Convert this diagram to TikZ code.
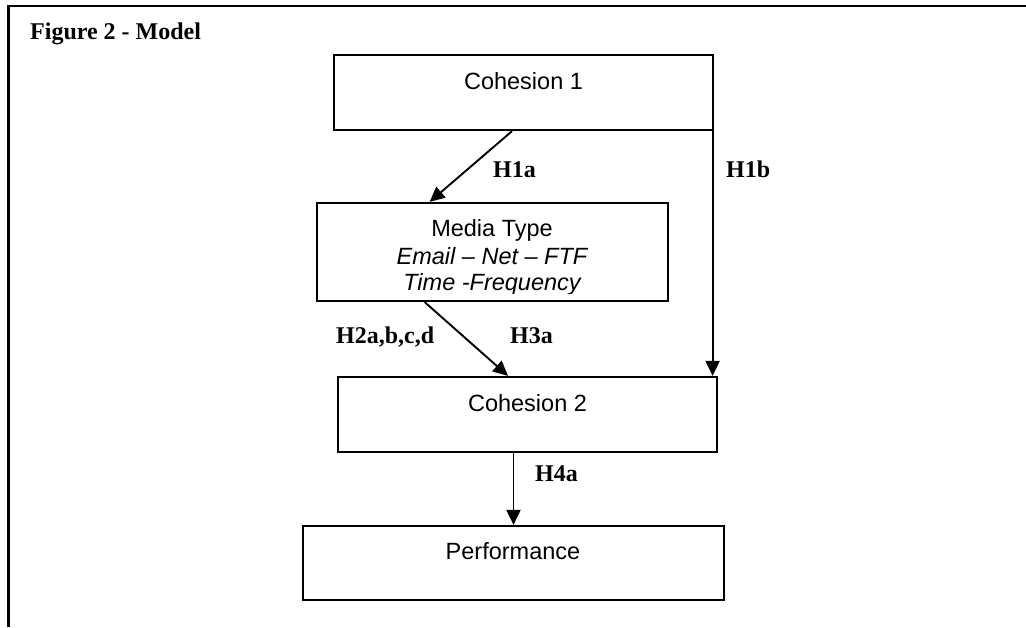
\documentclass[tikz,border=0pt]{standalone}
\usepackage{fontspec}
\setmainfont{Liberation Serif}
\setsansfont{Liberation Sans}
\usetikzlibrary{arrows.meta,calc}
\tikzset{
  box/.style={draw, line width=2.2pt, rectangle, inner sep=0pt},
  boxtxt/.style={font=\sffamily\fontsize{23.5}{28}\selectfont, anchor=base, inner sep=0pt},
  hyp/.style={font=\bfseries\fontsize{24}{28}\selectfont, anchor=base west, inner sep=0pt},
  conn/.style={line width=1.9pt, -{Triangle[length=15pt,width=14pt]}},
}
\begin{document}
\begin{tikzpicture}[x=1pt,y=-1pt]
\useasboundingbox (0,0) rectangle (1026,627);
% outer frame
\draw[line width=2.5pt] (8.5,627) -- (8.5,6) -- (1026,6);
\node[hyp] (title) at (30,39) {Figure 2 - Model};

% boxes
\node[box, minimum width=379pt, minimum height=75pt] (c1) at (523.5,92.5) {};
\node[box, minimum width=351pt, minimum height=98pt] (mt) at (492.5,252) {};
\node[box, minimum width=379pt, minimum height=75pt] (c2) at (527.5,414.5) {};
\node[box, minimum width=421pt, minimum height=74pt] (perf) at (513.5,563) {};

% box texts
\node[boxtxt] (c1t) at (523.5,89) {Cohesion 1};
\begin{scope}
\clip (mt.north west) rectangle ($(mt.south east)+(0,-9)$);
\node[boxtxt] (mt1) at (492,236) {Media Type};
\node[boxtxt] (mt2) at (492,264) {\itshape Email – Net – FTF};
\node[boxtxt] (mt3) at (492,290) {\itshape Time -Frequency};
\end{scope}
\node[boxtxt] (c2t) at (527.5,411) {Cohesion 2};
\node[boxtxt] (pt) at (513,559) {Performance};

% connectors
\coordinate (a1s) at ($(c1.south west)!0.47!(c1.south east)$);
\coordinate (a1e) at ($(mt.north west)!0.322!(mt.north east)$);
\draw[conn] (a1s) -- (a1e);

\coordinate (b1s) at ($(c1.south east)+(-1.5,0)$);
\draw[conn] (b1s) -- (b1s |- c2.north);

\coordinate (a2s) at ($(mt.south west)!0.308!(mt.south east)$);
\coordinate (a2e) at ($(c2.north west)!0.449!(c2.north east)$);
\draw[conn] (a2s) -- (a2e);

\draw[conn] (perf.north |- c2.south) -- (perf.north);

% labels
\node[hyp] (h1a) at (493,177) {H1a};
\node[hyp] (h1b) at (726,177) {H1b};
\node[hyp] (h2) at (336,343) {H2a,b,c,d};
\node[hyp] (h3) at (510,343) {H3a};
\node[hyp] (h4) at (535,481) {H4a};
\end{tikzpicture}
\end{document}
